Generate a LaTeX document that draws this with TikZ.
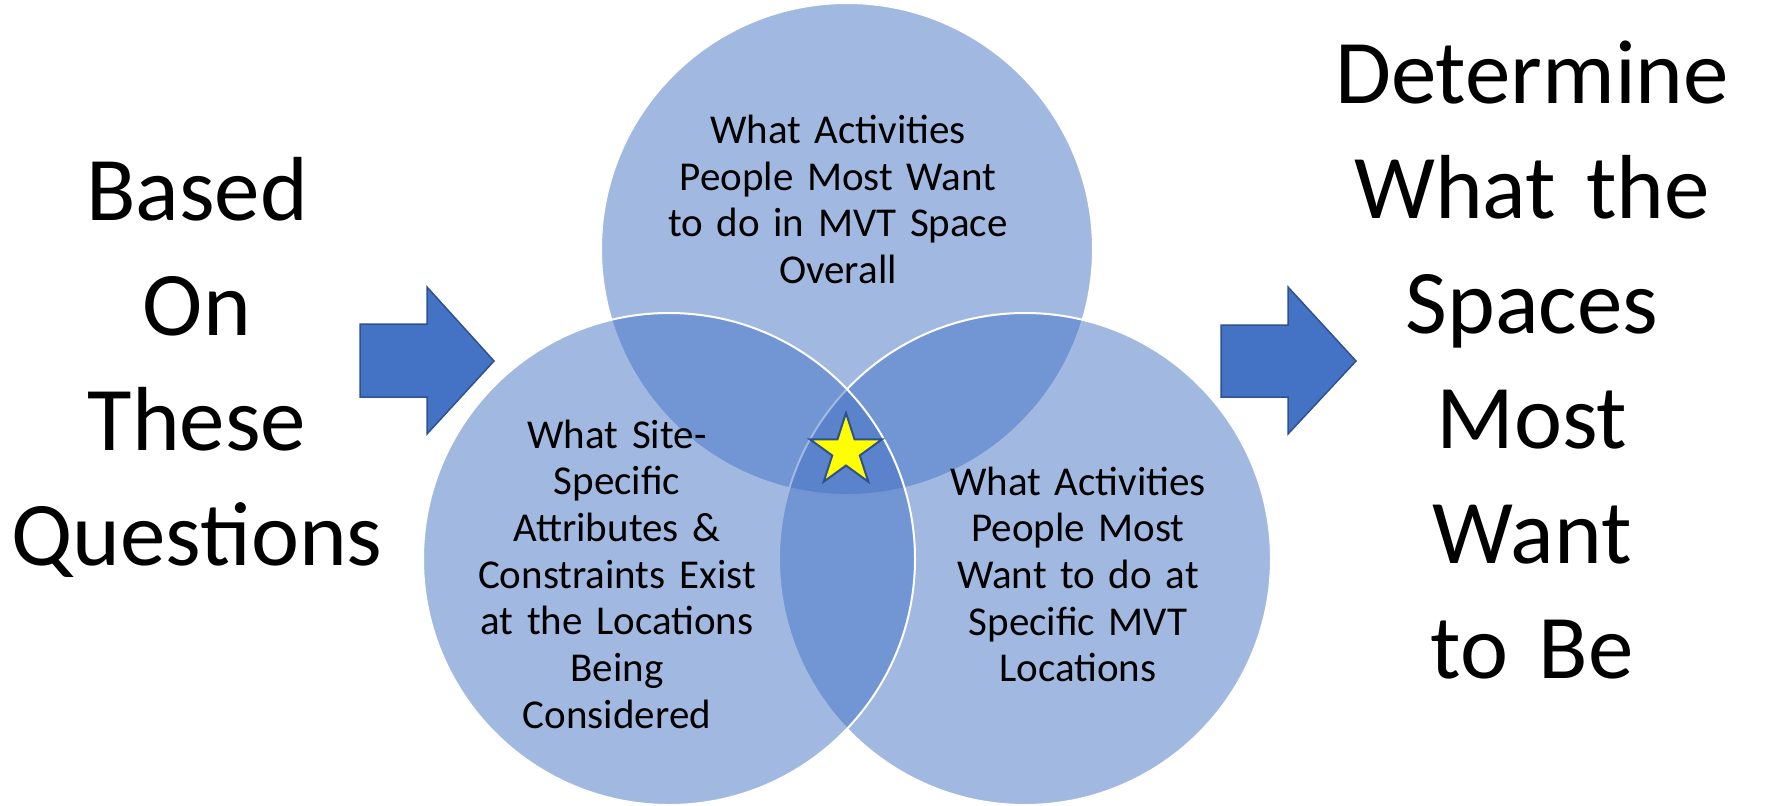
\documentclass[tikz,border=0pt]{standalone}
\usepackage{fontspec}
\setmainfont{Carlito}
\definecolor{vennblue}{RGB}{68, 114, 196}
\definecolor{edgeblue}{RGB}{47, 82, 143}
\definecolor{staryellow}{RGB}{255, 255, 0}
\usetikzlibrary{shapes.geometric, positioning, calc}

\begin{document}
\begin{tikzpicture}[x=1pt, y=-1pt,
    venn/.style={circle, minimum size=492pt, inner sep=0pt, fill=vennblue, fill opacity=0.5, draw=white, line width=2pt},
    small/.style={text width=400pt, align=center, inner sep=0pt, anchor=base, font=\fontsize{41}{46.7}\selectfont},
    big/.style={text width=440pt, align=center, inner sep=0pt, anchor=base, font=\fontsize{91}{115}\selectfont},
    bigarrow/.style={fill=vennblue, draw=edgeblue, line width=1.5pt, line join=miter}]
  \useasboundingbox (0,0) rectangle (1765,806);

  % the three circles
  \node[venn] (overall) at (847,249) {};
  \node[venn] (local) at (1025,559) {};
  \node[venn] (site) at (669,559) {};

  % circle texts
  \node[small] (qOverall) at (838,143.3) {What Activities\\People Most Want\\to do in MVT Space\\Overall};
  \node[small] (qSite) at (617,448) {What Site-\\Specific\\Attributes \&\\Constraints Exist\\at the Locations\\Being\\Considered};
  \node[small] (qLocal) at (1078,495) {What Activities\\People Most\\Want to do at\\Specific MVT\\Locations};

  % star in the middle
  \node[star, star points=5, star point ratio=2.618, minimum size=76pt, inner sep=0pt,
        fill=staryellow, draw=edgeblue, line width=2pt] (centre) at (846,451) {};

  % side texts
  \node[big] (basedOn) at (197,220) {Based\\On\\These\\Questions};
  \node[big] (determine) at (1532,103.3) {Determine\\What the\\Spaces\\Most\\Want\\to Be};

  % arrows
  \draw[bigarrow] (360,324) -- (427,324) -- (427,287) -- (494,361) -- (427,434) -- (427,397) -- (360,397) -- cycle;
  \draw[bigarrow] (1221,325) -- (1288,325) -- (1288,287) -- (1356,361) -- (1288,434) -- (1288,397) -- (1221,397) -- cycle;
\end{tikzpicture}
\end{document}
